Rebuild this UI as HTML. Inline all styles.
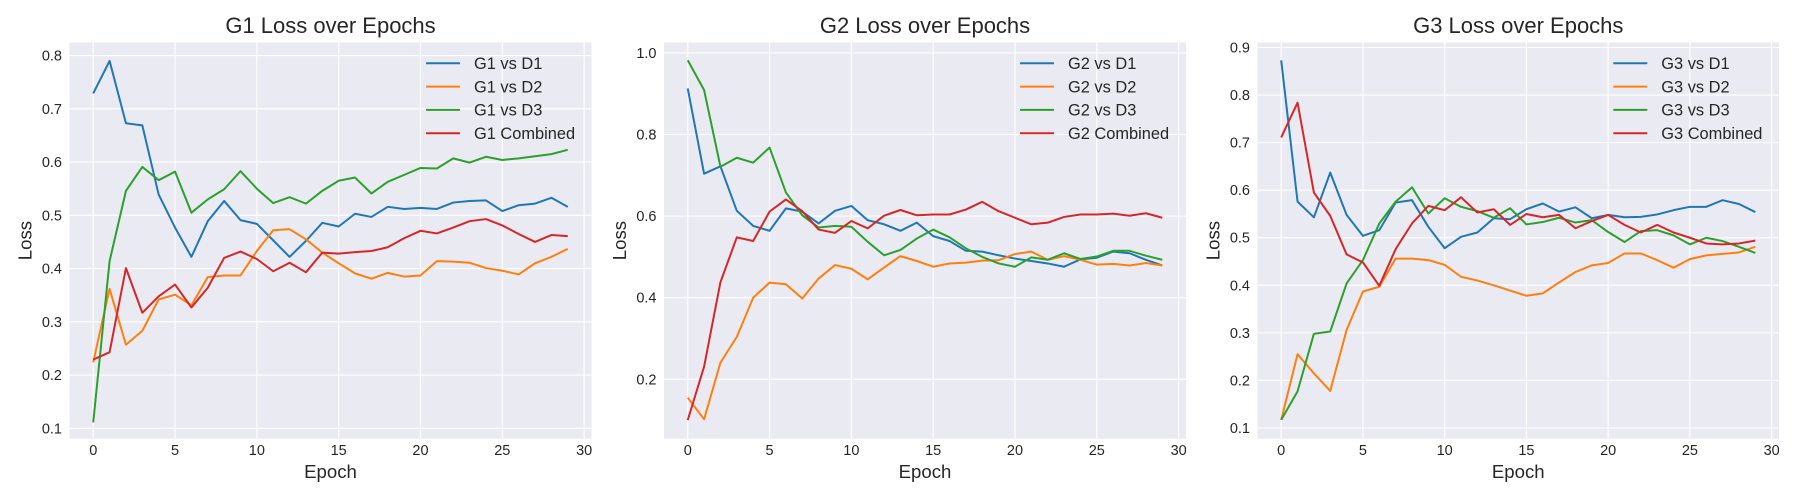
<!DOCTYPE html>
<html><head><meta charset="utf-8">
<style>
html,body{margin:0;padding:0;background:#fff;}
svg{display:block;font-family:"Liberation Sans",Arial,sans-serif;}
</style></head>
<body>
<svg id="fig" width="1800" height="500" viewBox="0 0 1800 500" xmlns="http://www.w3.org/2000/svg"></svg>
<script>
const epochs = [0,1,2,3,4,5,6,7,8,9,10,11,12,13,14,15,16,17,18,19,20,21,22,23,24,25,26,27,28,29];
const xTicks = [0,5,10,15,20,25,30];
const seriesColors = ['#1f77b4','#ff7f0e','#2ca02c','#d62728'];

const g1Labels = ['G1 vs D1','G1 vs D2','G1 vs D3','G1 Combined'];
const g1D1 = [0.729,0.79,0.673,0.669,0.539,0.477,0.422,0.489,0.527,0.491,0.484,0.453,0.422,0.452,0.486,0.479,0.503,0.497,0.516,0.512,0.514,0.512,0.524,0.527,0.528,0.508,0.519,0.522,0.533,0.516];
const g1D2 = [0.224,0.362,0.257,0.283,0.342,0.351,0.331,0.384,0.387,0.387,0.433,0.472,0.474,0.455,0.43,0.41,0.391,0.381,0.392,0.385,0.387,0.414,0.413,0.411,0.401,0.396,0.389,0.41,0.422,0.437];
const g1D3 = [0.111,0.414,0.546,0.591,0.566,0.582,0.505,0.53,0.549,0.583,0.55,0.523,0.534,0.522,0.546,0.565,0.571,0.541,0.563,0.576,0.589,0.588,0.607,0.599,0.61,0.604,0.607,0.611,0.615,0.623];
const g1Comb = [0.229,0.243,0.401,0.317,0.348,0.37,0.327,0.364,0.42,0.432,0.418,0.395,0.411,0.393,0.43,0.428,0.431,0.433,0.44,0.457,0.471,0.466,0.477,0.489,0.493,0.481,0.465,0.45,0.463,0.461];
const g1Ticks = [0.1,0.2,0.3,0.4,0.5,0.6,0.7,0.8];
const g1TickLabels = ['0.1','0.2','0.3','0.4','0.5','0.6','0.7','0.8'];

const g2Labels = ['G2 vs D1','G2 vs D2','G2 vs D3','G2 Combined'];
const g2D1 = [0.913,0.704,0.722,0.613,0.576,0.564,0.619,0.611,0.582,0.613,0.625,0.59,0.58,0.564,0.584,0.551,0.539,0.515,0.513,0.504,0.496,0.49,0.484,0.476,0.494,0.498,0.513,0.509,0.493,0.479];
const g2D2 = [0.155,0.102,0.241,0.304,0.4,0.437,0.433,0.398,0.447,0.48,0.471,0.445,0.474,0.502,0.49,0.476,0.484,0.486,0.491,0.492,0.507,0.513,0.493,0.502,0.493,0.481,0.483,0.479,0.485,0.479];
const g2D3 = [0.982,0.909,0.721,0.743,0.731,0.768,0.658,0.602,0.572,0.576,0.574,0.537,0.504,0.517,0.545,0.567,0.548,0.521,0.5,0.484,0.476,0.499,0.493,0.509,0.495,0.501,0.515,0.515,0.503,0.493];
const g2Comb = [0.1,0.231,0.438,0.548,0.539,0.611,0.641,0.612,0.567,0.559,0.588,0.57,0.601,0.615,0.602,0.604,0.604,0.616,0.635,0.612,0.596,0.58,0.584,0.598,0.604,0.604,0.606,0.601,0.607,0.596];
const g2Ticks = [0.2,0.4,0.6,0.8,1.0];
const g2TickLabels = ['0.2','0.4','0.6','0.8','1.0'];

const g3Labels = ['G3 vs D1','G3 vs D2','G3 vs D3','G3 Combined'];
const g3D1 = [0.873,0.576,0.543,0.637,0.548,0.504,0.516,0.574,0.579,0.523,0.478,0.502,0.511,0.541,0.539,0.56,0.572,0.555,0.564,0.541,0.548,0.543,0.544,0.549,0.558,0.565,0.565,0.579,0.571,0.554];
const g3D2 = [0.117,0.255,0.215,0.178,0.306,0.387,0.397,0.456,0.456,0.453,0.443,0.418,0.41,0.4,0.389,0.378,0.383,0.406,0.428,0.442,0.447,0.467,0.467,0.453,0.437,0.455,0.463,0.466,0.469,0.481];
const g3D3 = [0.117,0.177,0.298,0.303,0.404,0.453,0.53,0.576,0.606,0.551,0.583,0.565,0.556,0.542,0.562,0.528,0.533,0.542,0.532,0.537,0.512,0.491,0.514,0.516,0.505,0.486,0.5,0.493,0.481,0.468];
const g3Comb = [0.711,0.784,0.595,0.546,0.465,0.448,0.399,0.476,0.53,0.567,0.558,0.585,0.553,0.56,0.527,0.55,0.543,0.548,0.52,0.535,0.548,0.527,0.511,0.527,0.511,0.5,0.488,0.486,0.488,0.494];
const g3Ticks = [0.1,0.2,0.3,0.4,0.5,0.6,0.7,0.8,0.9];
const g3TickLabels = ['0.1','0.2','0.3','0.4','0.5','0.6','0.7','0.8','0.9'];

const NS = 'http://www.w3.org/2000/svg';
const svg = document.getElementById('fig');
function mk(tag, attrs, parent){
  const e = document.createElementNS(NS, tag);
  for (const k in attrs) e.setAttribute(k, attrs[k]);
  (parent||svg).appendChild(e);
  return e;
}
const TOP = 42.5, BOT = 438.7;

function panel(cfg){
  const g = mk('g', {});
  
  
  const xMin = -1.45, xMax = 30.45;
  const xs = v => cfg.left + (v - xMin) / (xMax - xMin) * (cfg.right - cfg.left);
  const ys = v => BOT - (v - cfg.yMin) / (cfg.yMax - cfg.yMin) * (BOT - TOP);
  const bg = mk('rect', {x:cfg.left, y:TOP, width:cfg.right-cfg.left, height:BOT-TOP, fill:'#eaeaf2'}, g);
  
  
  xTicks.forEach(t => {
    const x = xs(t);
    const gl = mk('line', {x1:x, x2:x, y1:TOP, y2:BOT, stroke:'#fff', 'stroke-width':1.1}, g);
    
    
    const tl = mk('text', {x:x, y:455, 'text-anchor':'middle', 'font-size':14.5, fill:'#262626'}, g);
    
    
    tl.textContent = String(t);
  });
  cfg.ticks.forEach((t, i) => {
    const y = ys(t);
    const gl = mk('line', {x1:cfg.left, x2:cfg.right, y1:y, y2:y, stroke:'#fff', 'stroke-width':1.1}, g);
    
    
    const tl = mk('text', {x:cfg.left-7.5, y:y+5, 'text-anchor':'end', 'font-size':14.5, fill:'#262626'}, g);
    
    
    tl.textContent = cfg.tickLabels[i];
  });
  cfg.series.forEach((s, i) => {
    const pts = epochs.map((e, j) => xs(e).toFixed(2) + ',' + ys(s[j]).toFixed(2)).join(' ');
    const pl = mk('polyline', {points:pts, fill:'none', stroke:seriesColors[i], 'stroke-width':2, 'stroke-linejoin':'round'}, g);
    
    
  });
  const cx = (cfg.left + cfg.right) / 2;
  const ti = mk('text', {x:cx, y:33, 'text-anchor':'middle', 'font-size':22, fill:'#262626'}, g);
  
  
  ti.textContent = cfg.title;
  const xl = mk('text', {x:cx, y:478, 'text-anchor':'middle', 'font-size':18.6, fill:'#262626'}, g);
  
  
  xl.textContent = 'Epoch';
  const yl = mk('text', {x:0, y:0, 'text-anchor':'middle', 'font-size':18.6, fill:'#262626', transform:'translate(' + (cfg.left-38) + ',' + ((TOP+BOT)/2) + ') rotate(-90)'}, g);
  
  
  yl.textContent = 'Loss';
  const lg = mk('g', {}, g);
  
  
  cfg.labels.forEach((lab, i) => {
    const y = 63.3 + i * 23.3;
    const ln = mk('line', {x1:cfg.legX, x2:cfg.legX+34, y1:y, y2:y, stroke:seriesColors[i], 'stroke-width':2}, lg);
    
    
    const tx = mk('text', {x:cfg.legX+48, y:y+5.8, 'font-size':16.4, fill:'#262626'}, lg);
    
    
    tx.textContent = lab;
  });
}

panel({id:'g1', title:'G1 Loss over Epochs', left:69.5, right:591.5, yMin:0.0805, yMax:0.8246,
  ticks:g1Ticks, tickLabels:g1TickLabels, series:[g1D1,g1D2,g1D3,g1Comb], labels:g1Labels, legX:426});
panel({id:'g2', title:'G2 Loss over Epochs', left:664, right:1186, yMin:0.0545, yMax:1.0255,
  ticks:g2Ticks, tickLabels:g2TickLabels, series:[g2D1,g2D2,g2D3,g2Comb], labels:g2Labels, legX:1020});
panel({id:'g3', title:'G3 Loss over Epochs', left:1257.5, right:1779, yMin:0.0775, yMax:0.9105,
  ticks:g3Ticks, tickLabels:g3TickLabels, series:[g3D1,g3D2,g3D3,g3Comb], labels:g3Labels, legX:1613.3});
</script>
</body></html>
